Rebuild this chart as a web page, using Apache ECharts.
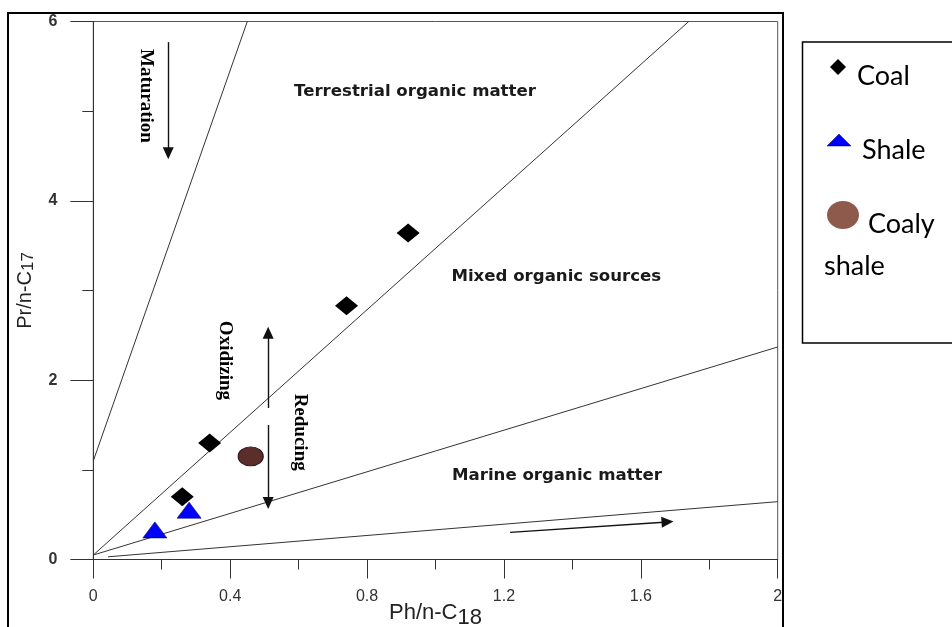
<!DOCTYPE html>
<html><head><meta charset="utf-8">
<script src="https://cdn.jsdelivr.net/npm/echarts@6/dist/echarts.min.js"></script>
<style>html,body{margin:0;padding:0;background:#fff}#c{width:952px;height:627px}</style>
</head><body><div id="c"></div>
<script>
// ---- data ----
const seriesNames = ['Coal', 'Shale', 'Coaly shale'];
const coalX = [0.26, 0.34, 0.74, 0.92];
const coalY = [0.70, 1.30, 2.83, 3.64];
const shaleX = [0.18, 0.28];
const shaleY = [0.33, 0.55];
const coalyShaleX = [0.46];
const coalyShaleY = [1.15];

// axis ticks
const xMin = 0, xMax = 2, xInterval = 0.4;
const yMin = 0, yMax = 6, yInterval = 2;

// boundary lines (x pairs / y pairs)
const terrestrialBoundX = [0, 0.45], terrestrialBoundY = [1.1, 6];
const mixedBoundX = [0, 1.74], mixedBoundY = [0.05, 6];
const marineBoundX = [0, 2], marineBoundY = [0.05, 2.37];
const lowerBoundX = [0.043, 2], lowerBoundY = [0.03, 0.645];

// region labels
const regionLabels = ['Terrestrial organic matter', 'Mixed organic sources', 'Marine organic matter'];
const regionLabelX = [0.94, 1.353, 1.355];
const regionLabelY = [5.22, 3.15, 0.94];

// process labels (vertical)
const processLabels = ['Maturation', 'Oxidizing', 'Reducing'];
const processLabelX = [0.154, 0.385, 0.604];
const processLabelY = [5.17, 2.22, 1.42];

// arrows
const arrowFromX = [0.219, 0.511, 0.511, 1.218];
const arrowFromY = [5.77, 1.69, 1.50, 0.303];
const arrowToX = [0.219, 0.511, 0.511, 1.678];
const arrowToY = [4.53, 2.53, 0.63, 0.419];

// ---- build ----
const zip = (xs, ys) => xs.map((x, i) => [x, ys[i]]);
const chart = echarts.init(document.getElementById('c'));
const lineStyle = { color: '#333', width: 1 };
const boundary = (xs, ys) => ({
  type: 'line', data: zip(xs, ys), symbol: 'none', lineStyle: lineStyle,
  silent: true, animation: false, z: 1
});
const legendFont = { fontFamily: 'Lato', fontSize: 27, fill: '#000', verticalAlign: 'middle' };

const option = {
  animation: false,
  grid: { left: 93.3, right: 174.3, top: 21.5, bottom: 67.5, show: true, borderColor: '#555', borderWidth: 1, containLabel: false, outerBoundsMode: 'none' },
  xAxis: {
    type: 'value', min: xMin, max: xMax, interval: xInterval,
    name: '{a|Ph/n-C}{s|18}', nameLocation: 'middle', nameGap: 37, nameMoveOverlap: false,
    nameTextStyle: { rich: {
      a: { fontFamily: 'Liberation Sans', fontSize: 22, color: '#222' },
      s: { fontFamily: 'Liberation Sans', fontSize: 22, color: '#222', padding: [10, 0, 0, 0] }
    } },
    axisLine: { lineStyle: { color: '#333', width: 1 } },
    axisTick: { length: 19, lineStyle: { color: '#333' } },
    minorTick: { show: true, splitNumber: 2, length: 10, lineStyle: { color: '#333' } },
    splitLine: { show: false },
    axisLabel: { margin: 29, fontFamily: 'Liberation Sans', fontSize: 16, color: '#333' }
  },
  yAxis: {
    type: 'value', min: yMin, max: yMax, interval: yInterval,
    name: '{a|Pr/n-C}{s|17}', nameLocation: 'middle', nameGap: 56,
    nameTextStyle: { rich: {
      a: { fontFamily: 'Liberation Sans', fontSize: 20, color: '#222' },
      s: { fontFamily: 'Liberation Sans', fontSize: 17, color: '#222', padding: [6, 0, 0, 0] }
    } },
    axisLine: { lineStyle: { color: '#333', width: 1 } },
    axisTick: { length: 23, lineStyle: { color: '#333' } },
    minorTick: { show: true, splitNumber: 2, length: 11, lineStyle: { color: '#333' } },
    splitLine: { show: false },
    axisLabel: { margin: 36, fontFamily: 'Liberation Sans', fontWeight: 'bold', fontSize: 16, color: '#333' }
  },
  series: [
    boundary(terrestrialBoundX, terrestrialBoundY),
    boundary(mixedBoundX, mixedBoundY),
    boundary(marineBoundX, marineBoundY),
    boundary(lowerBoundX, lowerBoundY),
    {
      type: 'line', data: [], silent: true,
      markLine: {
        silent: true, animation: false,
        symbol: ['none', 'triangle'], symbolSize: [11, 12],
        label: { show: false },
        lineStyle: { color: '#111', width: 1.4, type: 'solid' },
        emphasis: { disabled: true },
        data: arrowFromX.map((x, i) => [{ coord: [x, arrowFromY[i]] }, { coord: [arrowToX[i], arrowToY[i]] }])
      }
    },
    {
      type: 'scatter', symbolSize: 0, silent: true, z: 5, itemStyle: { opacity: 1 },
      data: regionLabels.map((t, i) => ({ name: t, value: [regionLabelX[i], regionLabelY[i]] })),
      label: { show: true, position: 'inside', formatter: '{b}', fontFamily: 'DejaVu Sans', fontWeight: 'bold', fontSize: 16.6, color: '#1a1a1a' }
    },
    {
      type: 'scatter', symbolSize: 0, silent: true, z: 5, itemStyle: { opacity: 1 },
      data: processLabels.map((t, i) => ({ name: t, value: [processLabelX[i], processLabelY[i]] })),
      label: { show: true, position: 'inside', formatter: '{b}', rotate: -90, fontFamily: 'Liberation Serif', fontWeight: 'bold', fontSize: 19, color: '#000' }
    },
    {
      name: seriesNames[0], type: 'scatter', data: zip(coalX, coalY), symbol: 'diamond', symbolSize: [23, 19],
      itemStyle: { color: '#000', opacity: 1 }, z: 4
    },
    {
      name: seriesNames[1], type: 'scatter', data: zip(shaleX, shaleY), symbol: 'triangle', symbolSize: [24, 16],
      itemStyle: { color: '#0000ff', borderColor: '#000060', borderWidth: 0.6, opacity: 1 }, z: 4
    },
    {
      name: seriesNames[2], type: 'scatter', data: zip(coalyShaleX, coalyShaleY), symbol: 'circle', symbolSize: [25, 19],
      itemStyle: { color: '#5b2d2b', borderColor: '#2a1414', borderWidth: 1, opacity: 1 }, z: 4
    }
  ],
  graphic: [
    { type: 'rect', silent: true, z: -10, shape: { x: 8, y: 13, width: 775, height: 700 }, style: { fill: 'none', stroke: '#000', lineWidth: 2 } },
    { type: 'rect', silent: true, shape: { x: 802.5, y: 42, width: 200, height: 301 }, style: { fill: 'none', stroke: '#000', lineWidth: 1.5 } },
    { type: 'polygon', silent: true, shape: { points: [[838, 59], [846, 67], [838, 75], [830, 67]] }, style: { fill: '#000' } },
    { type: 'text', silent: true, style: Object.assign({ x: 857, y: 76, text: seriesNames[0] }, legendFont) },
    { type: 'polygon', silent: true, shape: { points: [[839, 134], [851, 146], [827, 146]] }, style: { fill: '#0000ff', stroke: '#000060', lineWidth: 0.5 } },
    { type: 'text', silent: true, style: Object.assign({ x: 862, y: 150, text: seriesNames[1] }, legendFont) },
    { type: 'ellipse', silent: true, shape: { cx: 843, cy: 215, rx: 16, ry: 14 }, style: { fill: '#8d5a4b' } },
    { type: 'text', silent: true, style: Object.assign({ x: 868, y: 224, text: seriesNames[2].split(' ')[0] }, legendFont) },
    { type: 'text', silent: true, style: Object.assign({ x: 824, y: 266, text: seriesNames[2].split(' ')[1] }, legendFont) }
  ]
};
chart.setOption(option);
</script></body></html>
